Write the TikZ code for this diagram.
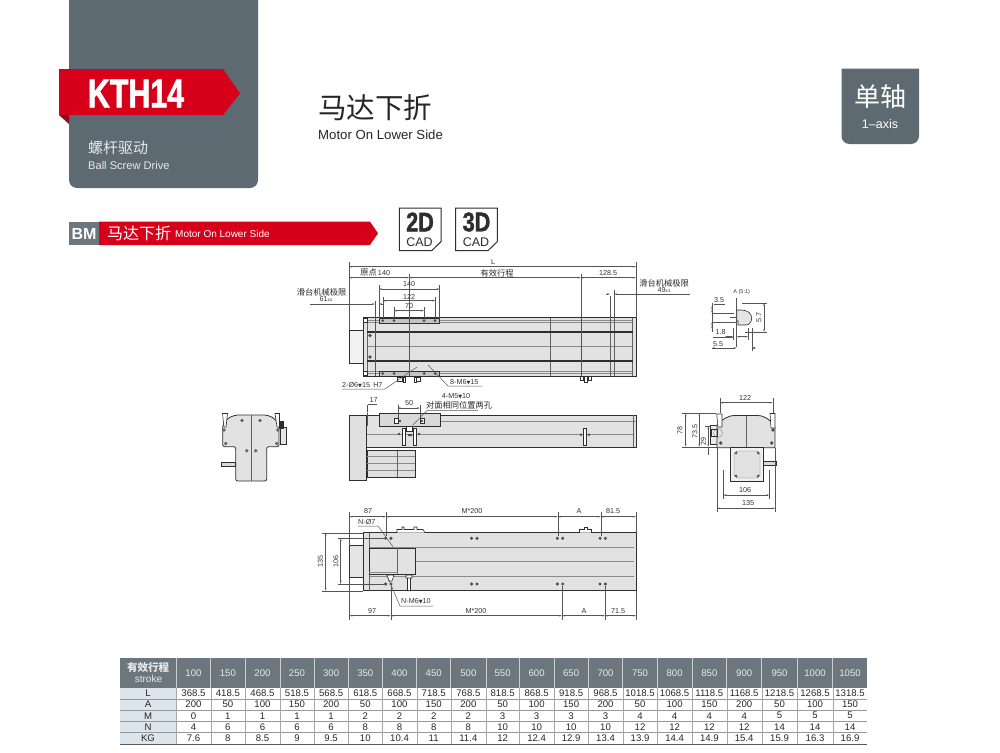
\documentclass[tikz,border=0pt]{standalone}
\usepackage{fontspec}
\usepackage{graphicx}
\setmainfont{Liberation Sans}
\newfontfamily\cjk{Noto Sans CJK SC}
\newfontfamily\sym{DejaVu Sans}
\newfontfamily\heavy[FakeBold=1.6]{Liberation Sans Bold}
\usetikzlibrary{arrows.meta}
\definecolor{panel}{HTML}{5E6A71}
\definecolor{redb}{HTML}{D7001B}
\definecolor{redd}{HTML}{8E0A1C}
\definecolor{head}{HTML}{6C767D}
\definecolor{lab}{HTML}{DDE5EC}
\definecolor{bodyc}{HTML}{E2E2E2}
\definecolor{ink}{HTML}{2E2E2E}
\definecolor{dimc}{HTML}{555555}
\definecolor{lightl}{HTML}{8A8A8A}
\newcommand{\dep}{{\sym\scalebox{.7}{▼}}}
\tikzset{
  x=1pt,y=-1pt,
  outl/.style={draw=ink,line width=.8pt},
  part/.style={draw=ink,line width=.8pt,fill=bodyc},
  inner/.style={draw=lightl,line width=.5pt},
  rail/.style={draw=ink,line width=1.3pt},
  vline/.style={draw=ink!75,line width=.5pt},
  dimen/.style={draw=dimc,line width=.45pt,{Stealth[length=3pt,width=1.6pt]}-{Stealth[length=3pt,width=1.6pt]}},
  ext/.style={draw=dimc,line width=.4pt},
  lead/.style={draw=dimc,line width=.5pt},
  dimtxt/.style={inner sep=0,font=\fontsize{7.2}{8}\selectfont,text=black!80},
  cjktxt/.style={inner sep=0,font=\cjk\fontsize{8.25}{9}\selectfont,text=black!85},
  cell/.style={inner sep=0,font=\fontsize{9.6}{10}\selectfont,text=black!85},
  hcell/.style={inner sep=0,font=\fontsize{9.6}{10}\selectfont,text=white!85!head},
  boltc/.style={fill=ink!85},
  cadbox/.style={draw=ink,line width=1pt,fill=white}
}
\newcommand{\pairb}[2]{\fill[boltc] (#1-2.7,#2) circle (1.7) (#1+2.7,#2) circle (1.7);}
\begin{document}
\begin{tikzpicture}
\useasboundingbox (0,0) rectangle (1000,752);
% ---- header panel
\fill[panel] (69,0) [rounded corners=8] -- (69,188) -- (258,188) [sharp corners] -- (258,0) -- cycle;
\fill[redd] (59,115) -- (69,115) -- (69,124) -- cycle;
\fill[redb] (59,69) -- (223,69) -- (240,93.3) -- (223,115) -- (59,115) -- cycle;
\node[anchor=center,inner sep=0,text=white] (kth) at (136,93.5) {\scalebox{.76}[1]{\heavy\fontsize{40}{40}\selectfont KTH14}};
\node[anchor=west,inner sep=0,text=white!85!panel,font=\cjk\fontsize{15}{16}\selectfont] (cnA) at (88,148) {螺杆驱动};
\node[anchor=west,inner sep=0,text=white!85!panel,font=\fontsize{11.1}{12}\selectfont] (enA) at (88,165.5) {Ball Screw Drive};
\node[anchor=west,inner sep=0,text=black!85,font=\cjk\fontsize{28.5}{30}\selectfont] (cnB) at (318,108) {马达下折};
\node[anchor=west,inner sep=0,text=black!85,font=\fontsize{13.2}{14}\selectfont] (enB) at (318,134.5) {Motor On Lower Side};
\fill[panel] (841.5,68.5) [rounded corners=8] -- (841.5,144) -- (919,144) [sharp corners] -- (919,68.5) -- cycle;
\node[inner sep=0,text=white,font=\cjk\fontsize{26}{28}\selectfont] (cnC) at (880,97) {单轴};
\node[inner sep=0,text=white,font=\fontsize{12.5}{13}\selectfont] (enC) at (880,124) {1–axis};
% ---- section bar
\fill[redb] (99,221.7) -- (370,221.7) -- (378,233.3) -- (370,245) -- (99,245) -- cycle;
\fill[head] (69,221.7) rectangle (99,245);
\node[inner sep=0,text=white,font=\fontsize{16}{16}\selectfont\bfseries] (bm) at (84,233.5) {BM};
\node[anchor=west,inner sep=0,text=white,font=\cjk\fontsize{16}{16}\selectfont] (cnD) at (107,233) {马达下折};
\node[anchor=west,inner sep=0,text=white,font=\fontsize{10}{11}\selectfont] (enD) at (175,233.5) {Motor On Lower Side};
% ---- CAD icons
\draw[cadbox] (399.3,208) -- (441,208) -- (441,241.7) -- (431.7,250.7) -- (399.3,250.7) -- cycle;
\node[inner sep=0,text=ink] (ca) at (420,222) {\scalebox{.8}[1]{\heavy\fontsize{27}{27}\selectfont 2D}};
\node[inner sep=0,text=ink,font=\fontsize{12.5}{13}\selectfont] (cb) at (419.5,242.5) {CAD};
\draw[cadbox] (455.7,208) -- (497.3,208) -- (497.3,241.7) -- (488,250.7) -- (455.7,250.7) -- cycle;
\node[inner sep=0,text=ink] (cc) at (476.5,222) {\scalebox{.8}[1]{\heavy\fontsize{27}{27}\selectfont 3D}};
\node[inner sep=0,text=ink,font=\fontsize{12.5}{13}\selectfont] (cd) at (476,242.5) {CAD};
% ---- top view
\draw[part,fill=white!95!black] (349,330) rectangle (363,363);
\draw[part] (363,317.7) rectangle (636,376);
\draw[inner] (367,322.7) -- (633,322.7) (367,371) -- (633,371) (367,346.7) -- (633,346.7);
\draw[inner] (367,320) -- (633,320) (367,373.5) -- (633,373.5);
\draw[vline] (367,317.7) -- (367,376) (550.7,317.7) -- (550.7,376) (610,317.7) -- (610,376) (614,317.7) -- (614,376) (632.7,317.7) -- (632.7,376);
\draw[rail] (367,332) -- (633,332) (367,361) -- (633,361);
\draw[part,fill=bodyc!70!gray,line width=.5pt] (379,318.5) rectangle (439.5,323);
\draw[part,fill=bodyc!70!gray,line width=.5pt] (379,371.5) rectangle (439.5,376);
\foreach \bx in {382.7,394,424,435}{\fill[boltc] (\bx,320.7) circle (1.5) (\bx,373.5) circle (1.5);}
\fill[boltc] (370,335.5) circle (1.9) (370,357) circle (1.9);
\draw[fill=white,draw=ink,line width=.4pt] (363.5,318.5) rectangle (367,322.5) (363.5,371.5) rectangle (367,375.5);
% clamps below top view
\draw[outl,line width=.6pt,fill=white] (397,377) rectangle (402,381) (403,377) rectangle (405,382.5) (414,377) rectangle (416,382.5) (416,377) rectangle (420,381);
\draw[outl,line width=.6pt,fill=white] (580,376.5) rectangle (583,380) (584,376.5) rectangle (587,382) (588,376.5) rectangle (591,380);
% top view dims
\draw[ext] (349,262) -- (349,330) (636,262) -- (636,317.7) (409,274) -- (409,376) (580.7,274) -- (580.7,376) (375,301) -- (375,376) (379,285) -- (379,318) (439.5,285) -- (439.5,318) (382.7,297) -- (382.7,318) (435.5,297) -- (435.5,318) (394,307) -- (394,318) (424,307) -- (424,318) (610,296) -- (610,317.7) (614,290) -- (614,317.7);
\draw[dimen] (349,266.7) -- (636,266.7);
\draw[dimen] (349,277.7) -- (409,277.7);
\draw[dimen] (409,277.7) -- (580.7,277.7);
\draw[dimen] (580.7,277.7) -- (636,277.7);
\draw[dimen] (379,289) -- (439.5,289);
\draw[dimen] (382.7,300.7) -- (435.5,300.7);
\draw[dimen] (394,310.7) -- (424,310.7);
\node[dimtxt] (tL) at (493,262.5) {L};
\node[cjktxt] (t1) at (368.5,272.5) {原点};
\node[dimtxt] (t2) at (384,273) {140};
\node[cjktxt] (t3) at (497,273) {有效行程};
\node[dimtxt] (t4) at (608,273) {128.5};
\node[dimtxt] (t5) at (409,284.5) {140};
\node[dimtxt] (t6) at (409,296.5) {122};
\node[dimtxt] (t7) at (409,306) {70};
\node[cjktxt] (t8) at (321.5,292.5) {滑台机械极限};
\node[dimtxt] (t9) at (326,299.5) {61{\fontsize{4.5}{5}\selectfont ±1}};
\draw[lead,-{Stealth[length=3pt,width=1.6pt]}] (310,304) -- (375,304);
\draw[lead,-{Stealth[length=3pt,width=1.6pt]}] (383,304) -- (379,304);
\node[cjktxt] (t10) at (664,283) {滑台机械极限};
\node[dimtxt] (t11) at (664,290) {49{\fontsize{4.5}{5}\selectfont ±1}};
\draw[lead,-{Stealth[length=3pt,width=1.6pt]}] (606,294) -- (610,294);
\draw[lead,-{Stealth[length=3pt,width=1.6pt]}] (690,294) -- (614,294);
\node[dimtxt,anchor=west] (t12) at (342,385) {2-Ø6\dep 15\, H7};
\draw[lead] (342,389) -- (385,389) -- (417,367);
\node[dimtxt,anchor=west] (t13) at (450,382) {8-M6\dep 15};
\draw[lead] (482,386) -- (448,386) -- (428,365);
% ---- side view
\draw[part,fill=white!88!black] (349.3,415) rectangle (366.7,480.7);
\draw[part] (366.7,415) rectangle (636,447.3);
\draw[part,fill=white!88!black] (367,450.7) rectangle (415,477);
\draw[inner] (367,456) -- (415,456) (367,463) -- (415,463) (367,470) -- (415,470);
\draw[vline,line width=.7pt] (397.7,450.7) -- (397.7,477);
\draw[inner,line width=.8pt] (440,421) -- (636,421) (367,434) -- (633,434);
\draw[vline] (633,415) -- (633,447.3);
\draw[part,fill=white!85!black] (379,413) rectangle (440,426);
\draw[part,fill=white,line width=.5pt] (406.7,426) rectangle (412.7,431);
\draw[part,fill=white,line width=.5pt] (394,418) rectangle (398,423) (420,418) rectangle (424,423);
\fill[boltc] (400,421) circle (1.4) (422,421) circle (1.4);
\draw[part,fill=white,line width=.5pt] (402.7,428) rectangle (405.7,445) (413.3,428) rectangle (416.5,445) (583.3,428) rectangle (586.5,445);
\fill[boltc] (399,434) circle (1.4) (408,434) rectangle (412,436) (419,434) circle (1.4) (581,434.7) circle (1.4) (589,434.7) circle (1.4);
\draw[lead] (377,404.5) -- (367.5,404.5);
\draw[ext,-{Stealth[length=3pt,width=1.6pt]}] (367.5,404.5) -- (367.5,413);
\draw[ext] (367.5,413) -- (367.5,426);
\draw[ext] (397.7,405) -- (397.7,418) (420,405) -- (420,418);
\draw[dimen] (397.7,408) -- (420,408);
\node[dimtxt] (t14) at (373.5,400) {17};
\node[dimtxt] (t15) at (409,403.5) {50};
\node[dimtxt] (t16) at (456,396) {4-M5\dep 10};
\node[cjktxt] (t17) at (459,405.5) {对面相同位置两孔};
\draw[lead] (478,410.5) -- (427,410.5) -- (412.7,425);
% ---- bottom view
\draw[part,fill=white!90!black] (349.3,545.7) rectangle (363,577.7);
\draw[part] (363.3,532.7) rectangle (636,590.7);
\draw[inner] (369,547.3) -- (634,547.3) (369,561.7) -- (634,561.7) (369,576) -- (634,576);
\draw[vline] (369,532.7) -- (369,590.7);
\draw[part,fill=bodyc,line width=.7pt] (369.3,548.3) rectangle (415,574.3);
\draw[vline,line width=.7pt] (397.7,548.3) -- (397.7,574.3);
\draw[inner] (369.3,572) -- (397.7,572);
\draw[outl,line width=.6pt,fill=white] (387,575) -- (394,575) -- (392,581) -- (389,581) -- cycle (406,575) rectangle (412,578) (407.5,578) rectangle (410.5,590.7);
\draw[outl,line width=.6pt,fill=white] (397,532.7) -- (397,529.5) -- (402,529.5) -- (402,527) -- (404,527) -- (404,529.5) -- (414,529.5) -- (414,527) -- (417,527) -- (417,529.5) -- (423,529.5) -- (425,532.7);
\draw[outl,line width=.6pt,fill=white] (579,532.7) -- (579,529.5) -- (584,529.5) -- (584,527) -- (587,527) -- (587,529.5) -- (591,529.5) -- (591,532.7);
\foreach \bx in {388.3,474.3,560,602.7}{\pairb{\bx}{538.3}\pairb{\bx}{584}}
\draw[ext] (349.3,512) -- (349.3,545.7) (636,512) -- (636,532.7) (386,512) -- (386,536) (557.7,512) -- (557.7,536) (600.7,512) -- (600.7,536);
\draw[ext] (349.3,577.7) -- (349.3,620) (636,590.7) -- (636,620) (390.7,586) -- (390.7,620) (562,586) -- (562,620) (605,586) -- (605,620);
\draw[dimen] (349.3,516.7) -- (386,516.7);
\draw[dimen] (386,516.7) -- (557.7,516.7);
\draw[dimen] (557.7,516.7) -- (600.7,516.7);
\draw[dimen] (600.7,516.7) -- (636,516.7);
\draw[dimen] (349.3,615.7) -- (390.7,615.7);
\draw[dimen] (390.7,615.7) -- (562,615.7);
\draw[dimen] (562,615.7) -- (605,615.7);
\draw[dimen] (605,615.7) -- (636,615.7);
\draw[ext] (322,532.7) -- (363,532.7) (322,590.7) -- (363,590.7) (338,538.3) -- (386,538.3) (338,584) -- (386,584);
\draw[dimen] (325.7,532.7) -- (325.7,590.7);
\draw[dimen] (340.7,538.3) -- (340.7,584);
\node[dimtxt] (t20) at (368,511.5) {87};
\node[dimtxt] (t21) at (472,511.5) {M*200};
\node[dimtxt] (t22) at (579,511.5) {A};
\node[dimtxt] (t23) at (613,511.5) {81.5};
\node[dimtxt] (t24) at (372,610.7) {97};
\node[dimtxt] (t25) at (476,610.7) {M*200};
\node[dimtxt] (t26) at (584,610.7) {A};
\node[dimtxt] (t27) at (618,610.7) {71.5};
\node[dimtxt,rotate=90] (t28) at (320.5,561) {135};
\node[dimtxt,rotate=90] (t29) at (336,561) {106};
\node[dimtxt,anchor=west] (t30) at (358,522) {N-Ø7};
\draw[lead] (358,526) -- (378,526) -- (393,546.7);
\node[dimtxt,anchor=west] (t31) at (401,601) {N-M6\dep 10};
\draw[lead] (433,606) -- (400,606) -- (386.7,575);
% ---- left end section
\draw[part,fill=white!90!black,line width=.6pt] (280,427) rectangle (286.7,444);
\draw[part,rounded corners=2] (222.7,446.7) -- (222.7,425) -- (228,418) -- (235.7,415) -- (266.7,415) -- (274,418) -- (279,425) -- (279,446.7) -- (266.7,446.7) -- (266.7,481) -- (235.7,481) -- (235.7,446.7) -- cycle;
\draw[vline,line width=.7pt] (251,415) -- (251,481);
\draw[part,fill=white,line width=.6pt] (222.5,413.5) -- (227.5,413.5) -- (226,427) -- (224,427) -- cycle (275,413.5) -- (279.5,413.5) -- (279.5,427) -- (277,427) -- cycle;
\draw[part,fill=white!85!black,line width=.6pt] (221.7,462) rectangle (235.7,466);
\fill[black!60] (242,420.5) circle (1.9) (260,420.5) circle (1.9) (246.7,450.7) circle (1.9) (255.7,450.7) circle (1.9) (224,430) circle (1.9) (225.7,443.5) circle (1.9) (277.7,430) circle (1.9) (276.7,443.5) circle (1.9);
\fill[ink] (279,421) rectangle (284,429);
% ---- detail A
\node[dimtxt,font=\fontsize{5.5}{6}\selectfont] (t40) at (741.7,292) {A (5:1)};
\draw[part,fill=white!90!black,line width=.6pt] (736.7,310) -- (741,310) .. controls (747.5,310) and (751.7,313.5) .. (751.7,318) .. controls (751.7,322) and (749,325) .. (746,325) -- (738,325) -- (738,321) -- (736.7,321) -- cycle;
\draw[ext,line width=.8pt] (736.7,298) -- (736.7,347);
\draw[ext] (712,313) -- (734,313) (712,322) -- (736,322) (730,317) -- (736.7,317) (742,303) -- (767,303) (745,332) -- (767,332) (733,328) -- (733,340) (748,328) -- (748,340) (752,328) -- (752,351) (714,304.5) -- (725,304.5) (712,303) -- (712,332) (713,336.7) -- (733,336.7) (712,348) -- (725,348);
\draw[dimen] (764,303) -- (764,332);
\draw[dimen] (712,306) -- (712,313);
\draw[dimen] (712,322) -- (712,329);
\draw[dimen] (725,336.7) -- (733,336.7);
\draw[dimen] (736.7,336.7) -- (748,336.7);
\draw[dimen] (712,348) -- (736.7,348);
\draw[dimen] (752,348) -- (756,348);
\node[dimtxt] (t41) at (719,300.5) {3.5};
\node[dimtxt] (t42) at (720.5,332) {1.8};
\node[dimtxt] (t43) at (718,344) {5.5};
\node[dimtxt,rotate=90] (t44) at (759,317.5) {5.7};
% ---- right end section
\draw[part,fill=white!92!black,line width=.6pt] (710.7,425) rectangle (717,444);
\draw[part] (717,447.7) -- (717,425) .. controls (722,420) and (727,415.5) .. (735,415.5) -- (757,415.5) .. controls (765,415.5) and (771,420) .. (775,428) -- (775,447.7) -- cycle;
\draw[vline,line width=.7pt] (746,415.5) -- (746,447.7);
\draw[part,fill=white,line width=.6pt] (716.7,414) -- (722,414) -- (722,427) -- (718,427) -- cycle (770,413.5) -- (775,413.5) -- (775,428) -- (771,428) -- cycle;
\draw[draw=ink!60,line width=.4pt] (718,433) circle (4.5);
\draw[outl,line width=1pt] (711.5,429) rectangle (717,436);
\fill[black!70] (720.7,443) circle (1.9) (771.7,443) circle (1.9) (773,430) circle (1.9);
\draw[part,fill=white!94!black] (730.5,447.7) rectangle (763,481);
\draw[draw=ink!70,line width=.4pt,fill=bodyc] (737,451) -- (757,451) -- (760,454) -- (760,475) -- (757,478) -- (737,478) -- (734,475) -- (734,454) -- cycle;
\fill[black!65] (736,453) circle (1.5) (758,453) circle (1.5) (736,476) circle (1.5) (758,476) circle (1.5);
\draw[part,fill=white!85!black,line width=.6pt] (763,461.7) rectangle (776,465);
\draw[ext] (720,398) -- (720,413) (772.7,398) -- (772.7,413) (723,470) -- (723,499) (769.3,470) -- (769.3,499) (717,447.7) -- (717,512) (775,447.7) -- (775,512) (682,413.3) -- (716,413.3) (682,446.7) -- (717,446.7) (705,426) -- (711,426);
\draw[dimen] (720,402.7) -- (772.7,402.7);
\draw[dimen] (723,495) -- (769.3,495);
\draw[dimen] (717,508.3) -- (775,508.3);
\draw[dimen] (685.7,413.3) -- (685.7,446.7);
\draw[dimen] (699.3,413.3) -- (699.3,446.7);
\draw[dimen] (708.3,426) -- (708.3,446.7);
\draw[ext] (708.3,446.7) -- (708.3,455);
\node[dimtxt] (t50) at (745,398) {122};
\node[dimtxt] (t51) at (745,490) {106};
\node[dimtxt] (t52) at (748,503) {135};
\node[dimtxt,rotate=90] (t53) at (680,430) {78};
\node[dimtxt,rotate=90] (t54) at (695,431) {73.5};
\node[dimtxt,rotate=90] (t55) at (703.5,441) {29};
% ---- table
\fill[head] (120,658.3) rectangle (867.3,687.7);
\fill[lab] (120,687.7) rectangle (176.3,744);
\draw[draw=black!40,line width=.5pt] (120,699) -- (867.3,699) (120,710) -- (867.3,710) (120,721.3) -- (867.3,721.3) (120,732.7) -- (867.3,732.7);
\draw[draw=black!65,line width=.9pt] (120,744) -- (867.3,744);
\node[inner sep=0,text=white!85!head,font=\cjk\bfseries\fontsize{10.5}{11}\selectfont] (hA) at (148,667.5) {有效行程};
\node[inner sep=0,text=white!85!head,font=\fontsize{10}{10}\selectfont] (hB) at (148.5,679) {stroke};
\node[cell] (rA) at (148,693.5) {L};
\node[cell] (rB) at (148,704.5) {A};
\node[cell] (rC) at (148,715.7) {M};
\node[cell] (rD) at (148,727) {N};
\node[cell] (rE) at (148,738.5) {KG};
\foreach \xa/\xb/\s/\l/\a/\m/\n/\k [count=\c] in {
176.3/210.7/100/368.5/200/0/4/7.6,
210.7/245/150/418.5/50/1/6/8,
245/280/200/468.5/100/1/6/8.5,
280/314/250/518.5/150/1/6/9,
314/348.3/300/568.5/200/1/6/9.5,
348.3/382.3/350/618.5/50/2/8/10,
382.3/416.7/400/668.5/100/2/8/10.4,
416.7/450.7/450/718.5/150/2/8/11,
450.7/486/500/768.5/200/2/8/11.4,
486/519.3/550/818.5/50/3/10/12,
519.3/554/600/868.5/100/3/10/12.4,
554/588.3/650/918.5/150/3/10/12.9,
588.3/622.7/700/968.5/200/3/10/13.4,
622.7/657.3/750/1018.5/50/4/12/13.9,
657.3/692/800/1068.5/100/4/12/14.4,
692/726.7/850/1118.5/150/4/12/14.9,
726.7/761.7/900/1168.5/200/4/12/15.4,
761.7/797.3/950/1218.5/50/5/14/15.9,
797.3/832.7/1000/1268.5/100/5/14/16.3,
832.7/867.3/1050/1318.5/150/5/14/16.9}{
  \draw[draw=white!65!head,line width=.5pt] (\xa,658.3) -- (\xa,687.7);
  \draw[draw=black!35,line width=.4pt] (\xa,687.7) -- (\xa,744);
  \pgfmathsetmacro{\xm}{(\xa+\xb)/2}
  \node[hcell] (h\c) at (\xm,673.5) {\s};
  \node[cell] (l\c) at (\xm,693.5) {\l};
  \node[cell] (a\c) at (\xm,704.5) {\a};
  \node[cell] (m\c) at (\xm,715.7) {\m};
  \node[cell] (n\c) at (\xm,727) {\n};
  \node[cell] (k\c) at (\xm,738.5) {\k};
}
\end{tikzpicture}
\end{document}
